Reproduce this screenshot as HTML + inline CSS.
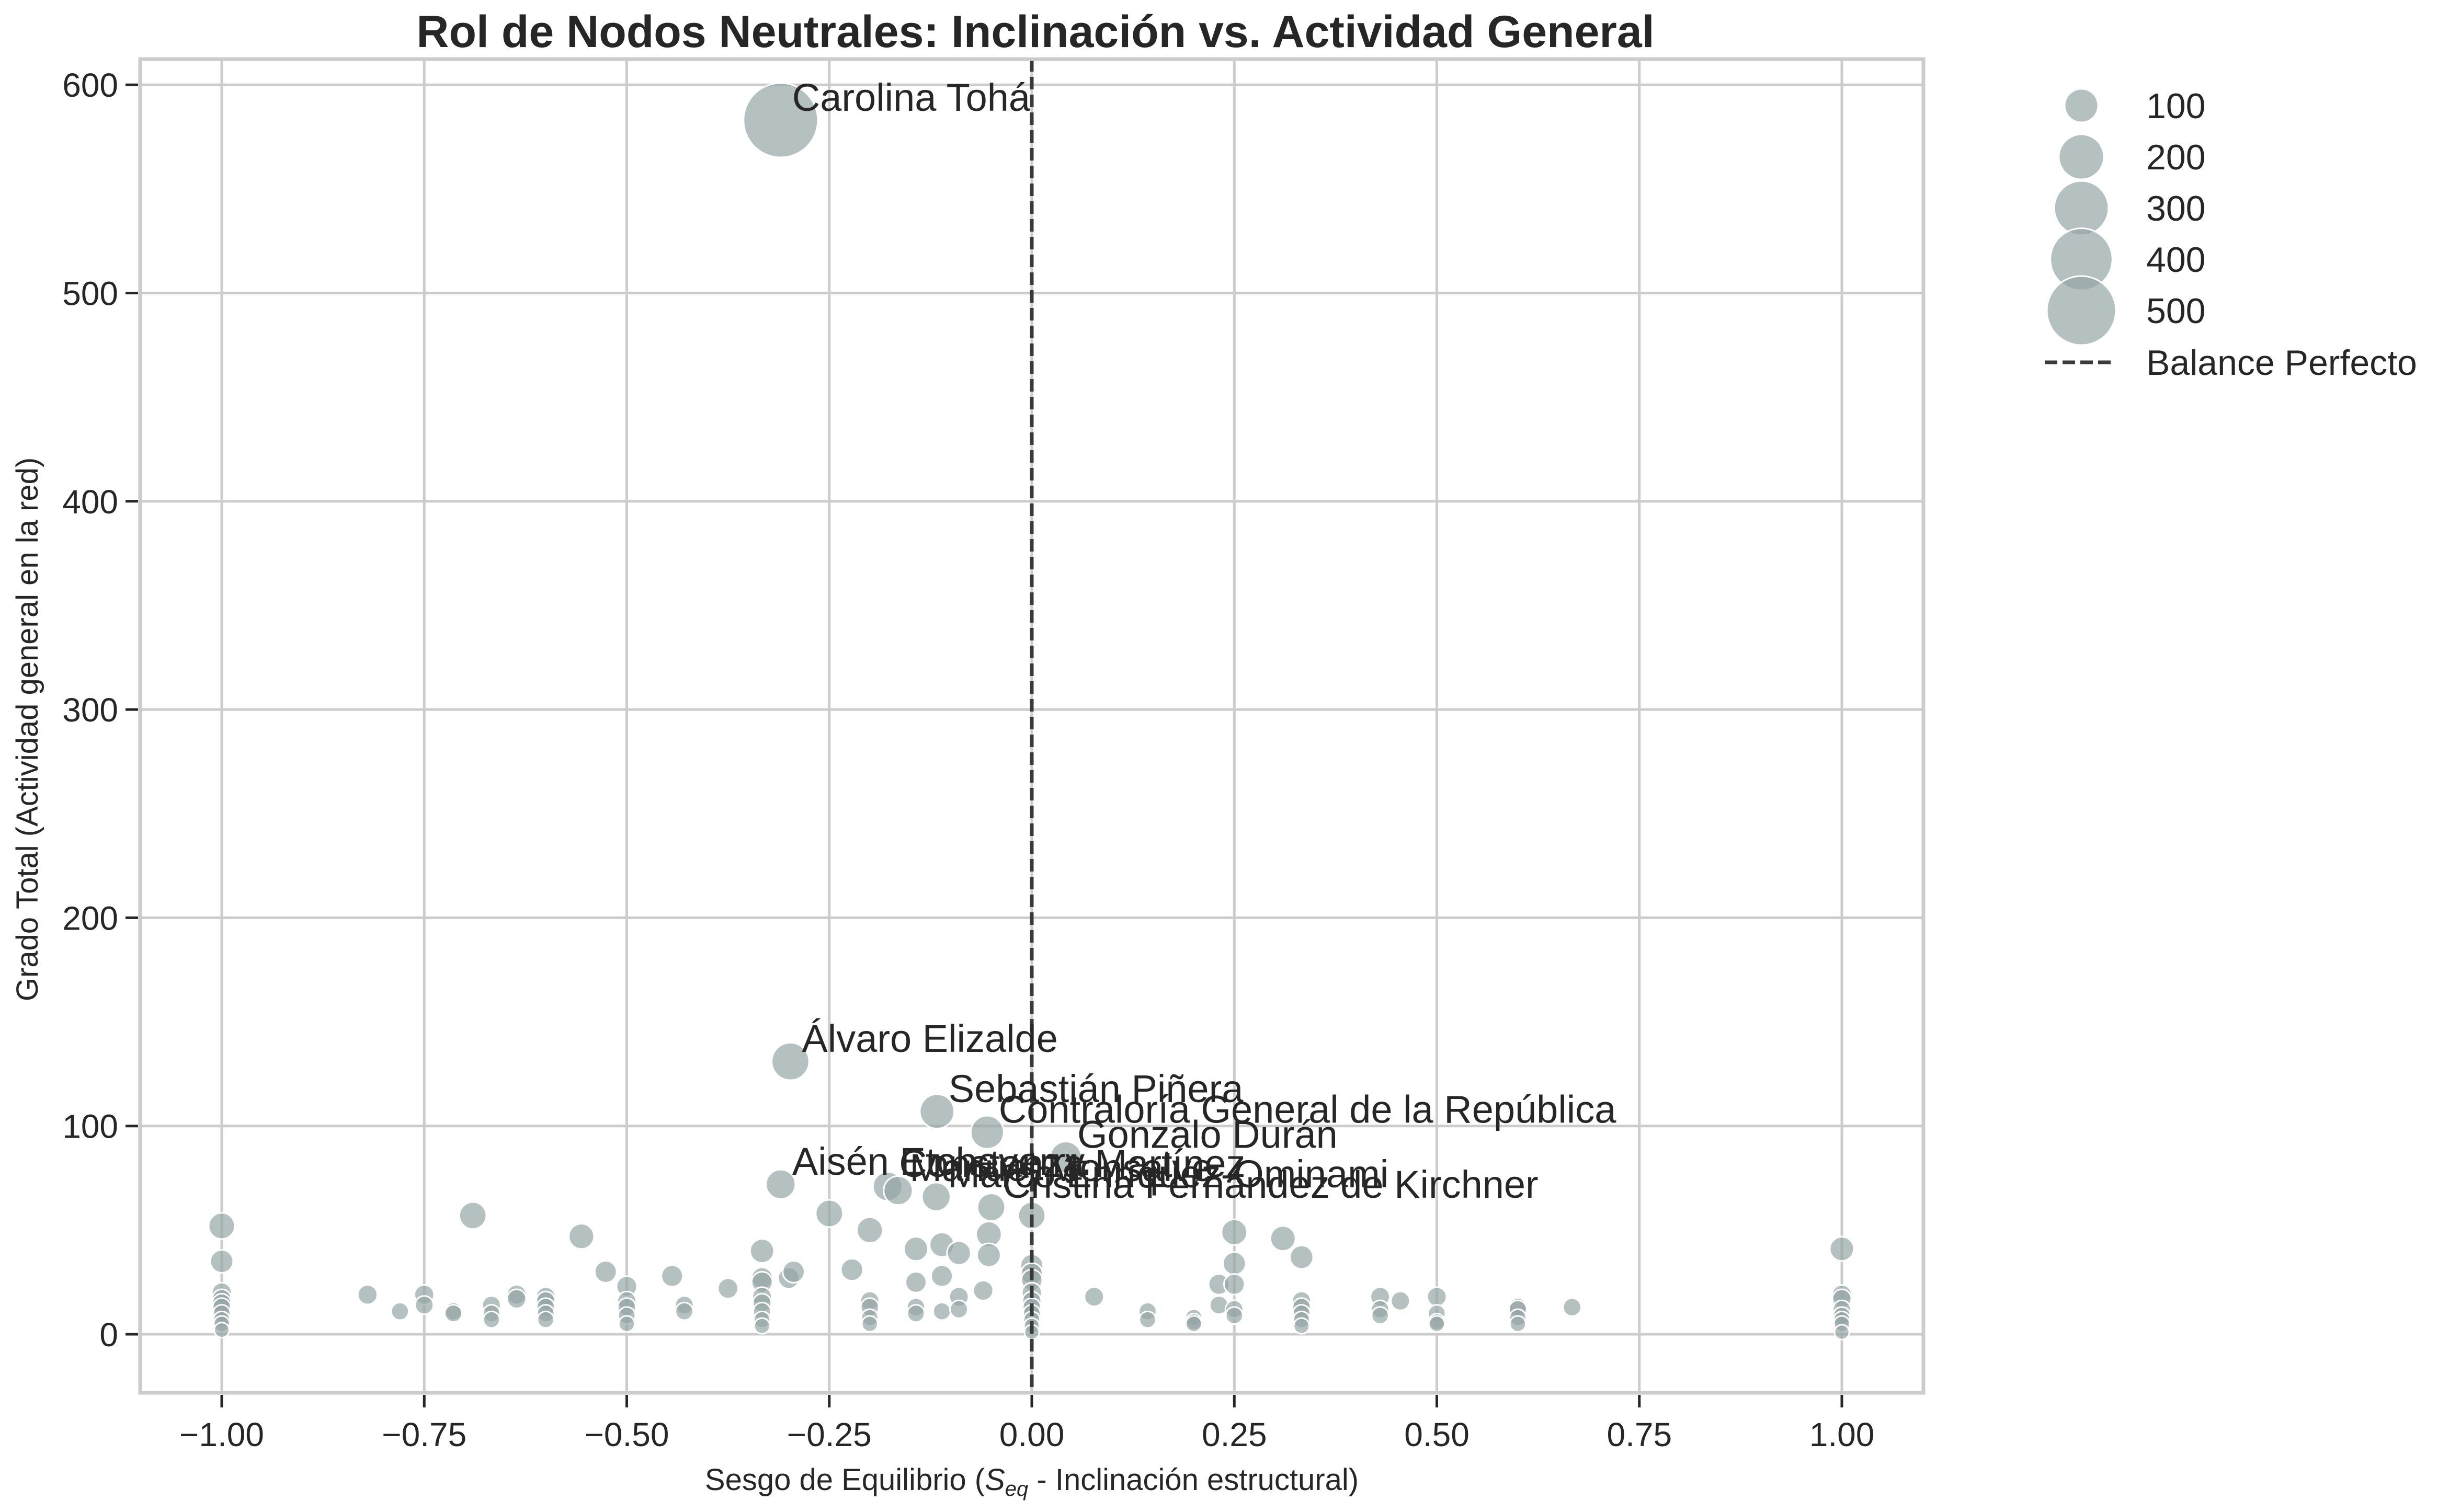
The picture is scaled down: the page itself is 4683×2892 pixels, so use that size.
<!DOCTYPE html>
<html><head><meta charset="utf-8"><style>html,body{margin:0;padding:0;background:#fff}svg{display:block}text{font-family:"Liberation Sans",sans-serif;fill:#262626}</style></head>
<body>
<svg id="chart" width="4683" height="2892" viewBox="0 0 4683 2892" xmlns="http://www.w3.org/2000/svg">
<text x="1980" y="90" font-size="86" font-weight="bold" text-anchor="middle">Rol de Nodos Neutrales: Inclinación vs. Actividad General</text>
<g id="grid"></g>
<g id="marks"></g>
<g id="labels"></g>
<g id="axes"></g>
<text x="1973" y="2850" font-size="58" text-anchor="middle">Sesgo de Equilibrio (<tspan font-style="italic">S</tspan><tspan font-style="italic" font-size="40" dy="11">eq</tspan><tspan dy="-11"> - Inclinación estructural)</tspan></text>
<text transform="translate(72,1395) rotate(-90)" font-size="58" text-anchor="middle">Grado Total (Actividad general en la red)</text>
<g id="legend"></g>
</svg>
<script>
const xTicks = [-1, -0.75, -0.5, -0.25, 0, 0.25, 0.5, 0.75, 1];
const xTickLabels = ["−1.00","−0.75","−0.50","−0.25","0.00","0.25","0.50","0.75","1.00"];
const yTicks = [0, 100, 200, 300, 400, 500, 600];
const legendSizes = [100, 200, 300, 400, 500];
const bias = [-1,-1,-1,-1,-1,-1,-1,-1,-1,-1,-0.82,-0.78,-0.75,-0.75,-0.714,-0.714,-0.69,-0.667,-0.667,-0.667,-0.636,-0.636,-0.6,-0.6,-0.6,-0.6,-0.6,-0.556,-0.526,-0.5,-0.5,-0.5,-0.5,-0.5,-0.444,-0.429,-0.429,-0.375,-0.333,-0.333,-0.333,-0.333,-0.333,-0.333,-0.333,-0.333,-0.3,-0.294,-0.25,-0.222,-0.2,-0.2,-0.2,-0.2,-0.2,-0.143,-0.143,-0.143,-0.143,-0.111,-0.111,-0.111,-0.09,-0.09,-0.09,-0.06,-0.053,-0.053,0,0,0,0,0,0,0,0,0,0,0,0.077,0.143,0.143,0.2,0.2,0.2,0.231,0.231,0.25,0.25,0.25,0.25,0.25,0.31,0.333,0.333,0.333,0.333,0.333,0.333,0.43,0.43,0.43,0.455,0.5,0.5,0.5,0.5,0.6,0.6,0.6,0.6,0.667,1,1,1,1,1,1,1,1];
const degree = [52,35,20,17,15,13,10,7,5,2,19,11,19,14,11,10,57,14,10,7,19,17,18,16,13,10,7,47,30,23,16,13,9,5,28,14,11,22,40,27,25,18,15,11,7,4,27,30,58,31,50,16,13,8,5,41,25,13,10,43,28,11,39,18,12,21,48,38,57,33,29,26,20,16,13,10,7,4,1,18,11,7,8,6,5,24,14,49,34,24,12,9,46,37,16,13,10,7,4,18,12,9,16,18,10,6,5,13,12,8,5,13,41,19,17,12,9,7,5,1];
const labelNames = ["Carolina Tohá","Álvaro Elizalde","Sebastián Piñera","Contraloría General de la República","Gonzalo Durán","Aisén Etcheverry","Constanza Martínez","Manuel Monsalve","Marco Enríquez-Ominami","Cristina Fernández de Kirchner"];
const labelBias = [-0.31,-0.298,-0.117,-0.055,0.042,-0.31,-0.178,-0.165,-0.118,-0.05];
const labelDegree = [583,131,107,97,85,72,71,69,66,61];

const NS="http://www.w3.org/2000/svg";
const X0=268,X1=3678,Y0=113,Y1=2664;
const sx=v=>1973+v*1549;
const sy=v=>2552-v*3.983;
const rad=v=>Math.sqrt(191+8.33*v);
function mk(tag,attrs,parent){const e=document.createElementNS(NS,tag);for(const k in attrs)e.setAttribute(k,attrs[k]);parent.appendChild(e);return e;}
const grid=document.getElementById('grid'),axes=document.getElementById('axes'),marks=document.getElementById('marks'),labels=document.getElementById('labels'),legend=document.getElementById('legend');
xTicks.forEach((t,i)=>{
  const g=mk('line',{x1:sx(t),x2:sx(t),y1:Y0,y2:Y1,stroke:'#cccccc','stroke-width':5},grid);
  
  
  const tk=mk('line',{x1:sx(t),x2:sx(t),y1:Y1+4,y2:Y1+28,stroke:'#262626','stroke-width':5},axes);
  
  
  const tl=mk('text',{x:sx(t),y:2766,'font-size':64,'text-anchor':'middle'},axes);
  tl.textContent=xTickLabels[i];
  
  
});
yTicks.forEach(t=>{
  const g=mk('line',{x1:X0,x2:X1,y1:sy(t),y2:sy(t),stroke:'#cccccc','stroke-width':5},grid);
  
  
  const tk=mk('line',{x1:X0-28,x2:X0-4,y1:sy(t),y2:sy(t),stroke:'#262626','stroke-width':5},axes);
  
  
  const tl=mk('text',{x:X0-42,y:sy(t)+23,'font-size':64,'text-anchor':'end'},axes);
  tl.textContent=String(t);
  
  
});
const fr=mk('rect',{x:X0,y:Y0,width:X1-X0,height:Y1-Y0,fill:'none',stroke:'#cccccc','stroke-width':7},axes);


function dot(x,y,v,parent){
  return mk('circle',{cx:x,cy:y,r:rad(v),fill:'#95a5a6','fill-opacity':0.7,stroke:'#ffffff','stroke-width':3},parent);
}
bias.forEach((b,i)=>{
  const c=dot(sx(b),sy(degree[i]),degree[i],marks);
  
  
});
labelNames.forEach((n,i)=>{
  const c=dot(sx(labelBias[i]),sy(labelDegree[i]),labelDegree[i],marks);
  
  
});
const dl=mk('line',{x1:sx(0),x2:sx(0),y1:Y0,y2:Y1,stroke:'#3a3a3a','stroke-width':7,'stroke-dasharray':'24 10'},marks);


labelNames.forEach((n,i)=>{
  const t=mk('text',{x:sx(labelBias[i])+22,y:sy(labelDegree[i])-18,'font-size':74},labels);
  t.textContent=n;
  
  
});
legendSizes.forEach((s,i)=>{
  const y=202+i*98;
  const c=dot(3980,y,s,legend);
  
  
  const t=mk('text',{x:4104,y:y+24,'font-size':68},legend);
  t.textContent=String(s);
  
  
});
const ll=mk('line',{x1:3910,x2:4045,y1:693,y2:693,stroke:'#3a3a3a','stroke-width':7,'stroke-dasharray':'24 10'},legend);


const lt=mk('text',{x:4104,y:717,'font-size':68},legend);
lt.textContent='Balance Perfecto';


</script>
</body></html>
